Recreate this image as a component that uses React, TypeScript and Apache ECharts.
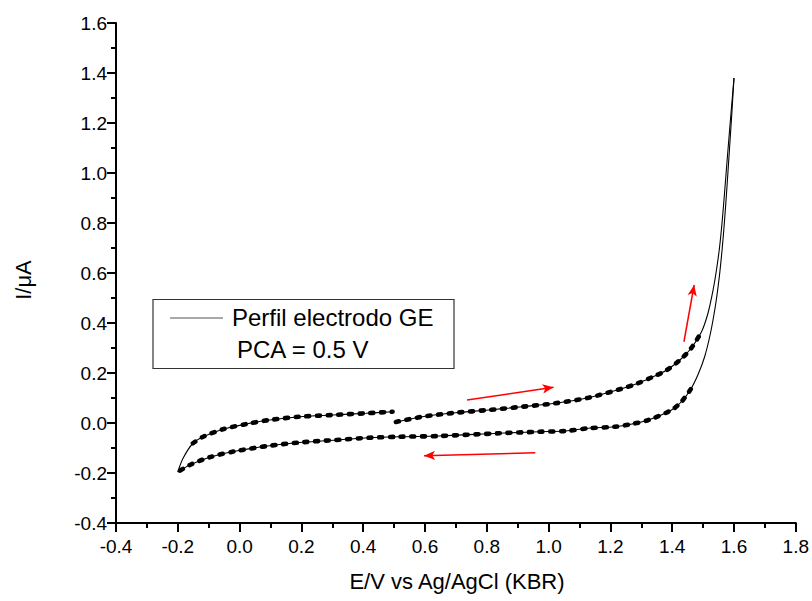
import React, { useEffect, useRef } from "react";
import * as echarts from "echarts";

// Forward scan starting at PCA = 0.5 V up to 1.6 V
const forwardStart: [number, number][] = [
  [0.506, 0.004], [0.591, 0.025], [0.699, 0.041], [0.806, 0.052], [0.914, 0.065],
  [1.022, 0.079], [1.129, 0.101], [1.236, 0.137], [1.285, 0.157], [1.333, 0.182],
  [1.38, 0.21], [1.425, 0.252], [1.462, 0.3], [1.495, 0.365], [1.516, 0.44],
  [1.532, 0.53], [1.543, 0.61], [1.553, 0.7], [1.562, 0.81], [1.57, 0.93],
  [1.579, 1.07], [1.589, 1.22], [1.6, 1.38],
];

// Reverse scan 1.6 V -> -0.2 V
const reverse: [number, number][] = [
  [1.6, 1.38], [1.592, 1.22], [1.584, 1.07], [1.577, 0.94], [1.57, 0.82],
  [1.562, 0.7], [1.552, 0.58], [1.54, 0.47], [1.524, 0.36], [1.505, 0.265],
  [1.484, 0.195], [1.46, 0.135], [1.43, 0.085], [1.398, 0.052], [1.323, 0.012],
  [1.27, -0.004], [1.215, -0.015], [1.129, -0.021], [1.054, -0.032], [0.968, -0.035],
  [0.839, -0.041], [0.645, -0.052], [0.516, -0.055], [0.419, -0.059], [0.312, -0.068],
  [0.204, -0.077], [0.097, -0.091], [-0.011, -0.112], [-0.097, -0.137], [-0.161, -0.168],
  [-0.2, -0.196],
];

// Forward scan -0.2 V -> 0.5 V
const forwardEnd: [number, number][] = [
  [-0.2, -0.196], [-0.183, -0.141], [-0.151, -0.081], [-0.118, -0.055], [-0.054, -0.025],
  [0.022, -0.004], [0.097, 0.012], [0.194, 0.025], [0.301, 0.032], [0.409, 0.039],
  [0.495, 0.045],
];

// Red scan-direction arrows: [start, end]
const arrows: [[number, number], [number, number]][] = [
  [[0.736, 0.092], [1.016, 0.143]],
  [[0.957, -0.119], [0.597, -0.131]],
  [[1.438, 0.325], [1.471, 0.552]],
];

const beadLimitForward = 1.5;
const beadLimitReverse = 1.47;

const xMin = -0.4;
const xMax = 1.8;
const yMin = -0.4;
const yMax = 1.6;
const step = 0.2;

const legendLine1 = "Perfil electrodo GE";
const legendLine2 = "PCA = 0.5 V";
const xTitle = "E/V vs Ag/AgCl (KBR)";
const yTitle = "I/μA";

const FONT = "'Liberation Sans', Arial, Helvetica, sans-serif";

export default function App() {
  const ref = useRef<HTMLDivElement>(null);
  useEffect(() => {
    if (!ref.current) return;
    const chart = echarts.init(ref.current, undefined, { renderer: "svg" });
    const baseLine = (data: [number, number][]) => ({
      type: "line",
      data,
      smooth: 0.3,
      showSymbol: false,
      symbol: "none",
      lineStyle: { color: "#000", width: 1.1 },
      z: 2,
      silent: true,
    });
    const beadLine = (data: [number, number][]) => ({
      type: "line",
      data,
      smooth: 0.3,
      showSymbol: false,
      symbol: "none",
      lineStyle: { color: "#000", width: 4.6, type: [3, 7.7], cap: "round" },
      z: 3,
      silent: true,
    });
    const arrowSeries = {
      type: "line",
      data: [],
      markLine: {
        silent: true,
        animation: false,
        symbol: ["none", "arrow"],
        symbolSize: [7, 11],
        label: { show: false },
        lineStyle: { color: "#ff0000", width: 1.5, type: "solid" },
        data: arrows.map(([s, e]) => [{ coord: s }, { coord: e }]),
      },
    };
    chart.setOption({
      animation: false,
      backgroundColor: "#fff",
      grid: { left: 116, right: 14, top: 23, bottom: 78 },
      xAxis: {
        type: "value",
        min: xMin,
        max: xMax,
        interval: step,
        splitLine: { show: false },
        axisLine: { show: true, onZero: false, lineStyle: { color: "#000", width: 2 } },
        axisTick: { show: true, inside: false, length: 9, lineStyle: { color: "#000", width: 2 } },
        minorTick: { show: true, splitNumber: 2, length: 5, lineStyle: { color: "#000", width: 2 } },
        axisLabel: {
          color: "#000",
          fontFamily: FONT,
          fontSize: 19,
          margin: 14,
          formatter: (v: number) => v.toFixed(1),
        },
      },
      yAxis: {
        type: "value",
        min: yMin,
        max: yMax,
        interval: step,
        splitLine: { show: false },
        axisLine: { show: true, onZero: false, lineStyle: { color: "#000", width: 2 } },
        axisTick: { show: true, inside: false, length: 9, lineStyle: { color: "#000", width: 2 } },
        minorTick: { show: true, splitNumber: 2, length: 5, lineStyle: { color: "#000", width: 2 } },
        axisLabel: {
          color: "#000",
          fontFamily: FONT,
          fontSize: 19,
          margin: 9,
          formatter: (v: number) => v.toFixed(1),
        },
      },
      series: [
        baseLine(forwardStart),
        baseLine(reverse),
        baseLine(forwardEnd),
        beadLine(forwardStart.filter((p) => p[0] <= beadLimitForward)),
        beadLine(reverse.filter((p) => p[0] <= beadLimitReverse)),
        beadLine(forwardEnd.filter((p) => p[0] >= -0.17)),
        arrowSeries,
      ],
      graphic: [
        {
          type: "rect",
          shape: { x: 153, y: 299.5, width: 301, height: 69 },
          style: { fill: "none", stroke: "#333", lineWidth: 1.2 },
          z: 10,
        },
        {
          type: "line",
          shape: { x1: 170, y1: 318, x2: 223, y2: 318 },
          style: { stroke: "#555", lineWidth: 1.2 },
          z: 10,
        },
        {
          type: "text",
          x: 232,
          y: 317,
          style: {
            text: legendLine1,
            fontFamily: FONT,
            fontSize: 24,
            fill: "#000",
            align: "left",
            verticalAlign: "middle",
          },
          z: 10,
        },
        {
          type: "text",
          x: 237,
          y: 349,
          style: {
            text: legendLine2,
            fontFamily: FONT,
            fontSize: 24,
            fill: "#000",
            align: "left",
            verticalAlign: "middle",
          },
          z: 10,
        },
        {
          type: "text",
          x: 457,
          y: 581,
          style: {
            text: xTitle,
            fontFamily: FONT,
            fontSize: 22,
            fill: "#000",
            align: "center",
            verticalAlign: "middle",
          },
        },
        {
          type: "text",
          x: 23,
          y: 280,
          rotation: Math.PI / 2,
          style: {
            text: yTitle,
            fontFamily: FONT,
            fontSize: 22,
            fill: "#000",
            align: "center",
            verticalAlign: "middle",
          },
        },
      ],
    });
    return () => chart.dispose();
  }, []);
  return (
    <div
      ref={ref}
      style={{ position: "fixed", left: 0, top: 0, width: 812, height: 601, background: "#fff" }}
    />
  );
}
